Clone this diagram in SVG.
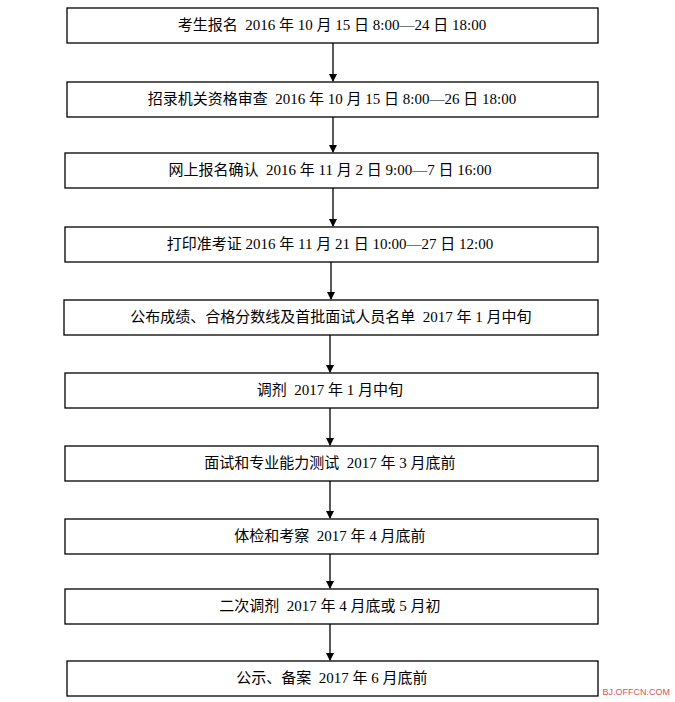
<svg xmlns="http://www.w3.org/2000/svg" width="675" height="702" viewBox="0 0 675 702">
<style>
.b{fill:#fff;stroke:#000;stroke-width:1.3}
.t{font-family:"Liberation Serif","Noto Sans CJK SC",serif;font-size:15px;fill:#000;text-anchor:middle;white-space:pre}
.c{stroke:#000;stroke-width:1.3;fill:none}
</style>
<defs><marker id="a" markerWidth="8" markerHeight="8" refX="7" refY="4" orient="auto" markerUnits="userSpaceOnUse"><path d="M0,0 L8,4 L0,8 Z" fill="#000"/></marker></defs>
<rect width="675" height="702" fill="#fff"/>
<g id="connectors">
<line class="c" x1="333" y1="43" x2="333" y2="81" marker-end="url(#a)"/>
<line class="c" x1="333" y1="117" x2="333" y2="152" marker-end="url(#a)"/>
<line class="c" x1="333" y1="188" x2="333" y2="226" marker-end="url(#a)"/>
<line class="c" x1="331" y1="262" x2="331" y2="299" marker-end="url(#a)"/>
<line class="c" x1="330" y1="335" x2="330" y2="372" marker-end="url(#a)"/>
<line class="c" x1="330" y1="408" x2="330" y2="445" marker-end="url(#a)"/>
<line class="c" x1="330" y1="481" x2="330" y2="518" marker-end="url(#a)"/>
<line class="c" x1="330" y1="554" x2="330" y2="588" marker-end="url(#a)"/>
<line class="c" x1="330" y1="624" x2="330" y2="660" marker-end="url(#a)"/>
</g>
<g id="n1"><rect class="b" x="67" y="8" width="531" height="35"/><text class="t" x="332" y="30">考生报名  2016 年 10 月 15 日 8:00—24 日 18:00</text></g>
<g id="n2"><rect class="b" x="67" y="82" width="531" height="35"/><text class="t" x="332" y="104">招录机关资格审查  2016 年 10 月 15 日 8:00—26 日 18:00</text></g>
<g id="n3"><rect class="b" x="65" y="153" width="533" height="35"/><text class="t" x="330" y="175">网上报名确认  2016 年 11 月 2 日 9:00—7 日 16:00</text></g>
<g id="n4"><rect class="b" x="65" y="227" width="533" height="35"/><text class="t" x="330" y="249">打印准考证 2016 年 11 月 21 日 10:00—27 日 12:00</text></g>
<g id="n5"><rect class="b" x="64" y="300" width="534" height="35"/><text class="t" x="331" y="322">公布成绩、合格分数线及首批面试人员名单  2017 年 1 月中旬</text></g>
<g id="n6"><rect class="b" x="65" y="373" width="533" height="35"/><text class="t" x="330" y="395">调剂  2017 年 1 月中旬</text></g>
<g id="n7"><rect class="b" x="65" y="446" width="533" height="35"/><text class="t" x="330" y="468">面试和专业能力测试  2017 年 3 月底前</text></g>
<g id="n8"><rect class="b" x="65" y="519" width="533" height="35"/><text class="t" x="330" y="541">体检和考察  2017 年 4 月底前</text></g>
<g id="n9"><rect class="b" x="65" y="589" width="533" height="35"/><text class="t" x="330" y="611">二次调剂  2017 年 4 月底或 5 月初</text></g>
<g id="n10"><rect class="b" x="67" y="661" width="531" height="35"/><text class="t" x="332" y="683">公示、备案  2017 年 6 月底前</text></g>
<text x="670" y="695" font-family="Liberation Sans,sans-serif" font-size="9" fill="#e05050" text-anchor="end">BJ.OFFCN.COM</text>
</svg>
